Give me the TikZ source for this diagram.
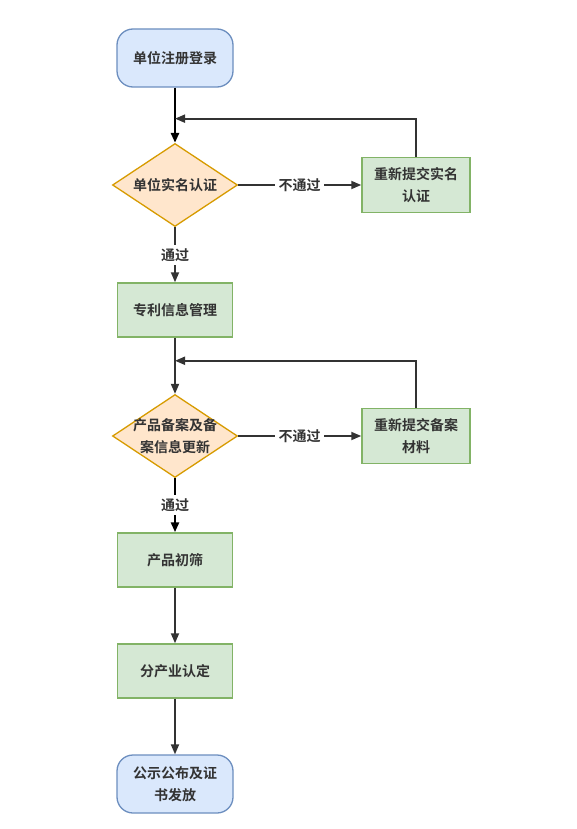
\documentclass[tikz,border=0pt]{standalone}
\usepackage{fontspec}
\setmainfont{Noto Sans CJK SC}[BoldFont={Noto Sans CJK SC Bold}]
\usetikzlibrary{shapes.geometric,arrows.meta}

\definecolor{termfill}{HTML}{DAE8FC}
\definecolor{termline}{HTML}{6C8EBF}
\definecolor{checkfill}{HTML}{FFE6CC}
\definecolor{checkline}{HTML}{D79B00}
\definecolor{taskfill}{HTML}{D5E8D4}
\definecolor{taskline}{HTML}{82B366}
\definecolor{ink}{HTML}{333333}

\tikzset{
  term/.style={rectangle, rounded corners=16pt, draw=termline, fill=termfill, line width=1.3pt,
    minimum width=116pt, minimum height=58pt, align=center},
  check/.style={diamond, draw=checkline, fill=checkfill, line width=1.3pt, inner sep=-14pt,
    aspect=1.52, minimum width=125pt, minimum height=83pt, align=center},
  task/.style={rectangle, draw=taskline, fill=taskfill, line width=1.5pt,
    minimum width=115pt, minimum height=54pt, align=center},
  redo/.style={task, minimum width=108pt, minimum height=55pt},
  flow/.style={->, draw=ink, line width=1.8pt},
  mainflow/.style={->, draw=black, line width=2.5pt}
}

\begin{document}
\begin{tikzpicture}[x=1pt, y=1pt, node distance=125pt,
    >={Triangle[length=10pt,width=8pt]},
    font=\fontsize{14}{22}\selectfont\bfseries, text=ink]
    \useasboundingbox[fill=white] (0,0) rectangle (576,-829);
        \node[term] (reg) at (175,-58) {单位注册登录};
        \node[check, below of=reg, node distance=127pt] (real) {单位实名认证};
        \node[redo, right of=real, node distance=241pt] (resub1) {重新提交实名\\认证};
        \node[task, below of=real] (patent) {专利信息管理};
        \node[check, below of=patent, node distance=126pt] (record) {产品备案及备\\案信息更新};
        \node[redo, right of=record, node distance=241pt] (resub2) {重新提交备案\\材料};
        \node[task, below of=record, node distance=124pt] (screen) {产品初筛};
        \node[task, below of=screen, node distance=111pt] (ident) {分产业认定};
        \node[term, below of=ident, node distance=113pt] (pub) {公示公布及证\\书发放};
        \coordinate (back1) at ([yshift=-31pt]reg.south);
        \coordinate (back2) at ([yshift=-23pt]patent.south);
        \draw[mainflow] (reg) -- (real);
        \draw[flow] (real) -- node[fill=white] {不通过} (resub1);
        \draw[flow] (resub1.north) |- (back1);
        \draw[flow] (real) -- node[fill=white] {通过} (patent);
        \draw[flow] (patent) -- (record);
        \draw[flow] (record) -- node[fill=white] {不通过} (resub2);
        \draw[flow] (resub2.north) |- (back2);
        \draw[mainflow] (record) -- node[fill=white] {通过} (screen);
        \draw[flow] (screen) -- (ident);
        \draw[flow] (ident) -- (pub);
    \end{tikzpicture}
\end{document}
